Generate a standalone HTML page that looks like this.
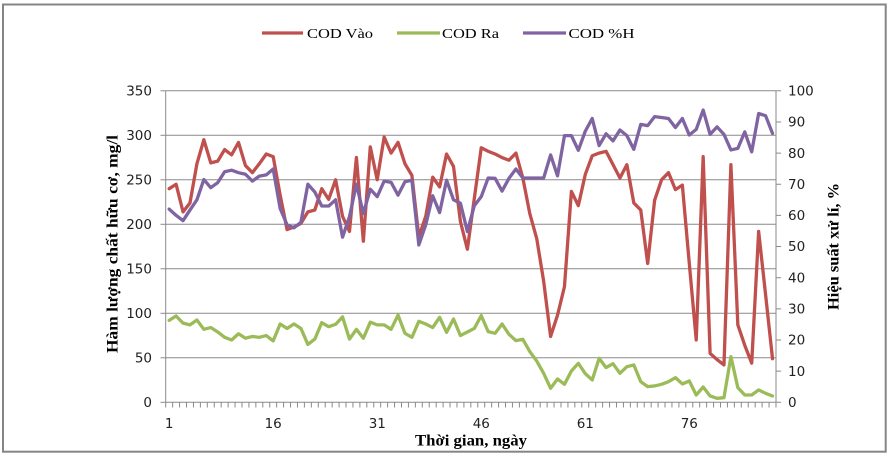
<!DOCTYPE html>
<html><head><meta charset="utf-8"><style>
html,body{margin:0;padding:0;background:#fff;}
svg{display:block;}
.tk{font-family:"DejaVu Sans","Liberation Sans",sans-serif;font-size:13.5px;fill:#222;}
.lg{font-family:"Liberation Serif",serif;font-size:14px;fill:#000;}
.ti{font-family:"Liberation Serif",serif;font-size:16px;font-weight:bold;fill:#000;}
</style></head><body>
<svg width="892" height="458" viewBox="0 0 892 458" xmlns="http://www.w3.org/2000/svg">
<rect x="0" y="0" width="892" height="458" fill="#fff"/>
<rect x="3" y="4.5" width="882.7" height="447.2" fill="none" stroke="#858585" stroke-width="2"/>
<!-- legend -->
<line x1="262" y1="33" x2="303" y2="33" stroke="#C0504D" stroke-width="3.2"/>
<text class="lg" x="307" y="38" textLength="66" lengthAdjust="spacingAndGlyphs">COD Vào</text>
<line x1="397" y1="33" x2="440" y2="33" stroke="#9BBB59" stroke-width="3.2"/>
<text class="lg" x="442" y="38" textLength="57" lengthAdjust="spacingAndGlyphs">COD Ra</text>
<line x1="523" y1="33" x2="566" y2="33" stroke="#8064A2" stroke-width="3.2"/>
<text class="lg" x="568.5" y="38" textLength="66" lengthAdjust="spacingAndGlyphs">COD %H</text>
<!-- gridlines -->
<g stroke="#8a8a8a" stroke-width="1">
<line x1="165.7" y1="90.8" x2="776" y2="90.8"/>
<line x1="165.7" y1="135.3" x2="776" y2="135.3"/>
<line x1="165.7" y1="179.8" x2="776" y2="179.8"/>
<line x1="165.7" y1="224.3" x2="776" y2="224.3"/>
<line x1="165.7" y1="268.8" x2="776" y2="268.8"/>
<line x1="165.7" y1="313.3" x2="776" y2="313.3"/>
<line x1="165.7" y1="357.8" x2="776" y2="357.8"/>
<line x1="165.7" y1="402.3" x2="776" y2="402.3"/>
<!-- axes -->
<line x1="165.7" y1="90.8" x2="165.7" y2="402.3"/>
<line x1="776" y1="90.8" x2="776" y2="402.3"/>
<!-- left ticks -->
<line x1="160.5" y1="90.8" x2="165.7" y2="90.8"/>
<line x1="160.5" y1="135.3" x2="165.7" y2="135.3"/>
<line x1="160.5" y1="179.8" x2="165.7" y2="179.8"/>
<line x1="160.5" y1="224.3" x2="165.7" y2="224.3"/>
<line x1="160.5" y1="268.8" x2="165.7" y2="268.8"/>
<line x1="160.5" y1="313.3" x2="165.7" y2="313.3"/>
<line x1="160.5" y1="357.8" x2="165.7" y2="357.8"/>
<line x1="160.5" y1="402.3" x2="165.7" y2="402.3"/>
</g>
<!-- x ticks -->
<line x1="165.2" y1="405" x2="777" y2="405" stroke="#8a8a8a" stroke-width="5" stroke-dasharray="1 5.935"/>
<!-- right ticks -->
<line x1="778.6" y1="90.3" x2="778.6" y2="403" stroke="#8a8a8a" stroke-width="5" stroke-dasharray="1 30.15"/>
<!-- left tick labels -->
<g class="tk" text-anchor="end">
<text x="152" y="95.5">350</text>
<text x="152" y="140">300</text>
<text x="152" y="184.5">250</text>
<text x="152" y="229">200</text>
<text x="152" y="273.5">150</text>
<text x="152" y="318">100</text>
<text x="152" y="362.5">50</text>
<text x="152" y="407">0</text>
</g>
<!-- right tick labels -->
<g class="tk" text-anchor="start">
<text x="788" y="95.5">100</text>
<text x="788" y="126.6">90</text>
<text x="788" y="157.8">80</text>
<text x="788" y="189">70</text>
<text x="788" y="220.1">60</text>
<text x="788" y="251.2">50</text>
<text x="788" y="282.4">40</text>
<text x="788" y="313.5">30</text>
<text x="788" y="344.7">20</text>
<text x="788" y="375.8">10</text>
<text x="788" y="407">0</text>
</g>
<!-- x tick labels -->
<g class="tk" text-anchor="middle">
<text x="169.2" y="428">1</text>
<text x="273.2" y="428">16</text>
<text x="377.3" y="428">31</text>
<text x="481.3" y="428">46</text>
<text x="585.3" y="428">61</text>
<text x="689.3" y="428">76</text>
</g>
<!-- axis titles -->
<text class="ti" x="471" y="445.5" text-anchor="middle" textLength="112" lengthAdjust="spacingAndGlyphs">Thời gian, ngày</text>
<text class="ti" transform="translate(117.5,244) rotate(-90)" text-anchor="middle" textLength="218" lengthAdjust="spacingAndGlyphs">Hàm lượng chất hữu cơ, mg/l</text>
<text class="ti" transform="translate(838.5,246.5) rotate(-90)" text-anchor="middle" textLength="127" lengthAdjust="spacingAndGlyphs">Hiệu suất xử lí, %</text>
<!-- series -->
<g transform="translate(165.7 402.3) scale(6.935 -0.89)" fill="none" stroke-linejoin="round" stroke-linecap="round">
<polyline vector-effect="non-scaling-stroke" stroke="#C0504D" stroke-width="3.3" points="0.5,240 1.5,245 2.5,214 3.5,224 4.5,268 5.5,295 6.5,269 7.5,271 8.5,284 9.5,278 10.5,292 11.5,266 12.5,258 13.5,268 14.5,279 15.5,276 16.5,233 17.5,194 18.5,197 19.5,201 20.5,214 21.5,216 22.5,240 23.5,228 24.5,250 25.5,209 26.5,192 27.5,275 28.5,181 29.5,287 30.5,250 31.5,298 32.5,280 33.5,292 34.5,268 35.5,255 36.5,186 37.5,209 38.5,253 39.5,242 40.5,279 41.5,265 42.5,203 43.5,172 44.5,229 45.5,286 46.5,282 47.5,279 48.5,275 49.5,272 50.5,280 51.5,252 52.5,212 53.5,184 54.5,136 55.5,74 56.5,98 57.5,130 58.5,237 59.5,221 60.5,256 61.5,277 62.5,280 63.5,282 64.5,267 65.5,252 66.5,267 67.5,224 68.5,216 69.5,156 70.5,227 71.5,250 72.5,258 73.5,239 74.5,244 75.5,156 76.5,70 77.5,276 78.5,55 79.5,48 80.5,42 81.5,267 82.5,87 83.5,64 84.5,44 85.5,192 86.5,121 87.5,49"/>
<polyline vector-effect="non-scaling-stroke" stroke="#9BBB59" stroke-width="3.3" points="0.5,92 1.5,97 2.5,89 3.5,87 4.5,92.5 5.5,82 6.5,84 7.5,79 8.5,73 9.5,70 10.5,77 11.5,72 12.5,74 13.5,73 14.5,75 15.5,69 16.5,88 17.5,83 18.5,88 19.5,83 20.5,65 21.5,71 22.5,89.5 23.5,85 24.5,87.6 25.5,96 26.5,71 27.5,82 28.5,72 29.5,90 30.5,87 31.5,87 32.5,82 33.5,98 34.5,77.5 35.5,73 36.5,91 37.5,88 38.5,84 39.5,95.5 40.5,78.6 41.5,93.6 42.5,75 43.5,79 44.5,83 45.5,97.4 46.5,79.4 47.5,77.5 48.5,88 49.5,76.4 50.5,69.3 51.5,70.8 52.5,57 53.5,46.4 54.5,32.6 55.5,15.7 56.5,26.2 57.5,20.2 58.5,35.2 59.5,43.8 60.5,32.2 61.5,25.1 62.5,49.4 63.5,39 64.5,43.4 65.5,32.6 66.5,40 67.5,42 68.5,23.2 69.5,17.6 70.5,18.4 71.5,20.2 72.5,23.2 73.5,27.7 74.5,20.6 75.5,24 76.5,8.2 77.5,17.2 78.5,7.1 79.5,4.5 80.5,5.2 81.5,51.3 82.5,16.5 83.5,8.2 84.5,8.2 85.5,13.9 86.5,10.1 87.5,7.1"/>
</g>
<g transform="translate(165.7 402.3) scale(6.935 -3.1155)" fill="none" stroke-linejoin="round" stroke-linecap="round">
<polyline vector-effect="non-scaling-stroke" stroke="#8064A2" stroke-width="3.3" points="0.5,62 1.5,60 2.5,58.3 3.5,61.7 4.5,65 5.5,71.5 6.5,68.9 7.5,70.5 8.5,74 9.5,74.5 10.5,73.7 11.5,73.2 12.5,71 13.5,72.6 14.5,73 15.5,74.9 16.5,62.2 17.5,57 18.5,56 19.5,57.8 20.5,70 21.5,67.5 22.5,63 23.5,63 24.5,65 25.5,53 26.5,59.6 27.5,70 28.5,60.6 29.5,68.4 30.5,66 31.5,71 32.5,70.6 33.5,66.5 34.5,70.8 35.5,71.3 36.5,50.5 37.5,57 38.5,66.3 39.5,60.9 40.5,71.3 41.5,65 42.5,63.9 43.5,54.8 44.5,63.1 45.5,66 46.5,72 47.5,71.9 48.5,67.8 49.5,71.9 50.5,74.9 51.5,72 52.5,72 53.5,72 54.5,72 55.5,79.4 56.5,72.7 57.5,85.6 58.5,85.6 59.5,80.9 60.5,87 61.5,91.1 62.5,82.4 63.5,86.2 64.5,83.9 65.5,87.4 66.5,85.6 67.5,81.2 68.5,89.2 69.5,88.8 70.5,91.7 71.5,91.4 72.5,91.1 73.5,88.2 74.5,91.1 75.5,85.8 76.5,87.6 77.5,93.8 78.5,86 79.5,88.4 80.5,86 81.5,81 82.5,81.5 83.5,86.8 84.5,80.4 85.5,92.7 86.5,92 87.5,86.3"/>
</g>
</svg>
</body></html>
